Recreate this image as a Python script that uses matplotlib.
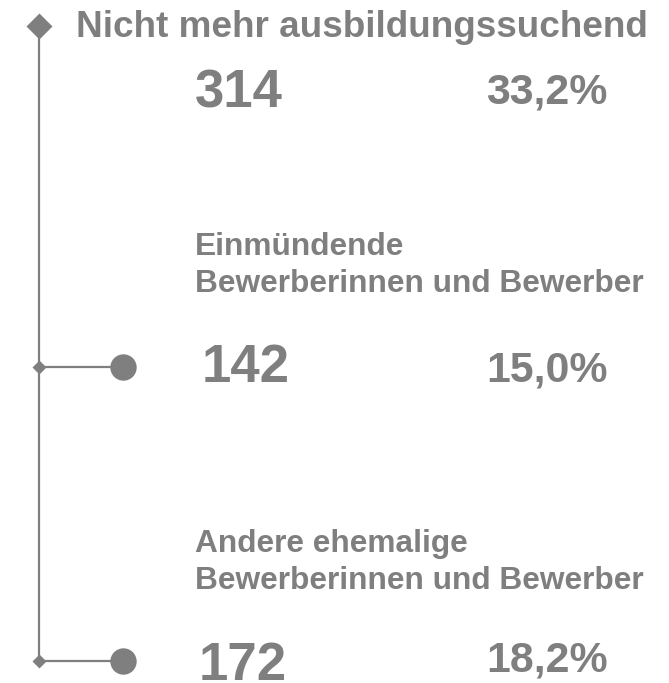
import matplotlib
matplotlib.use("Agg")
import matplotlib.pyplot as plt

# ---- data ----
title = "Nicht mehr ausbildungssuchend"
total_value = "314"
total_share = "33,2%"
categories = ["Einmündende\nBewerberinnen und Bewerber",
              "Andere ehemalige\nBewerberinnen und Bewerber"]
values = ["142", "172"]
shares = ["15,0%", "18,2%"]

# ---- layout (pixel coordinates, origin top-left) ----
W, H = 669, 683
GRAY = "#7f7f7f"
FONT = "Liberation Sans"

fig = plt.figure(figsize=(W / 100, H / 100), dpi=100)
ax = fig.add_axes([0, 0, 1, 1])
ax.set_xlim(0, W)
ax.set_ylim(H, 0)
ax.axis("off")

trunk_x = 38.5
top_y = 26
branch_y = [367, 661]
branch_end = 123

# trunk line
ax.plot([trunk_x, trunk_x], [top_y, branch_y[-1]], color=GRAY, lw=1.6,
        solid_capstyle="butt", zorder=1)
# top diamond
ax.plot([trunk_x], [top_y], marker="D", ms=13.5, color=GRAY, mec="none", zorder=3)
for by in branch_y:
    ax.plot([trunk_x, branch_end], [by, by], color=GRAY, lw=1.6, zorder=1)
    ax.plot([trunk_x], [by], marker="D", ms=7.5, color=GRAY, mec="none", zorder=3)
    ax.plot([branch_end], [by], marker="o", ms=19, color=GRAY, mec="none", zorder=3)

# texts
ax.text(76, 37, title, fontsize=26.6, fontweight="bold", color=GRAY,
        family=FONT, ha="left", va="baseline")
ax.text(195, 107, total_value, fontsize=38, fontweight="bold", color=GRAY,
        family=FONT, ha="left", va="baseline")
ax.text(486, 104, total_share, fontsize=30.8, fontweight="bold", color=GRAY,
        family=FONT, ha="left", va="baseline")

label_base = [255, 552]
line_gap = 37
num_base = [382, 680]
num_x = [202, 199]
share_base = [382, 672]
for i in range(len(categories)):
    for j, line in enumerate(categories[i].split("\n")):
        ax.text(195, label_base[i] + j * line_gap, line, fontsize=22.8,
                fontweight="bold", color=GRAY, family=FONT,
                ha="left", va="baseline")
    ax.text(num_x[i], num_base[i], values[i], fontsize=38, fontweight="bold",
            color=GRAY, family=FONT, ha="left", va="baseline")
    ax.text(486, share_base[i], shares[i], fontsize=30.8, fontweight="bold",
            color=GRAY, family=FONT, ha="left", va="baseline")

fig.savefig("out.png", dpi=100, facecolor="white")
